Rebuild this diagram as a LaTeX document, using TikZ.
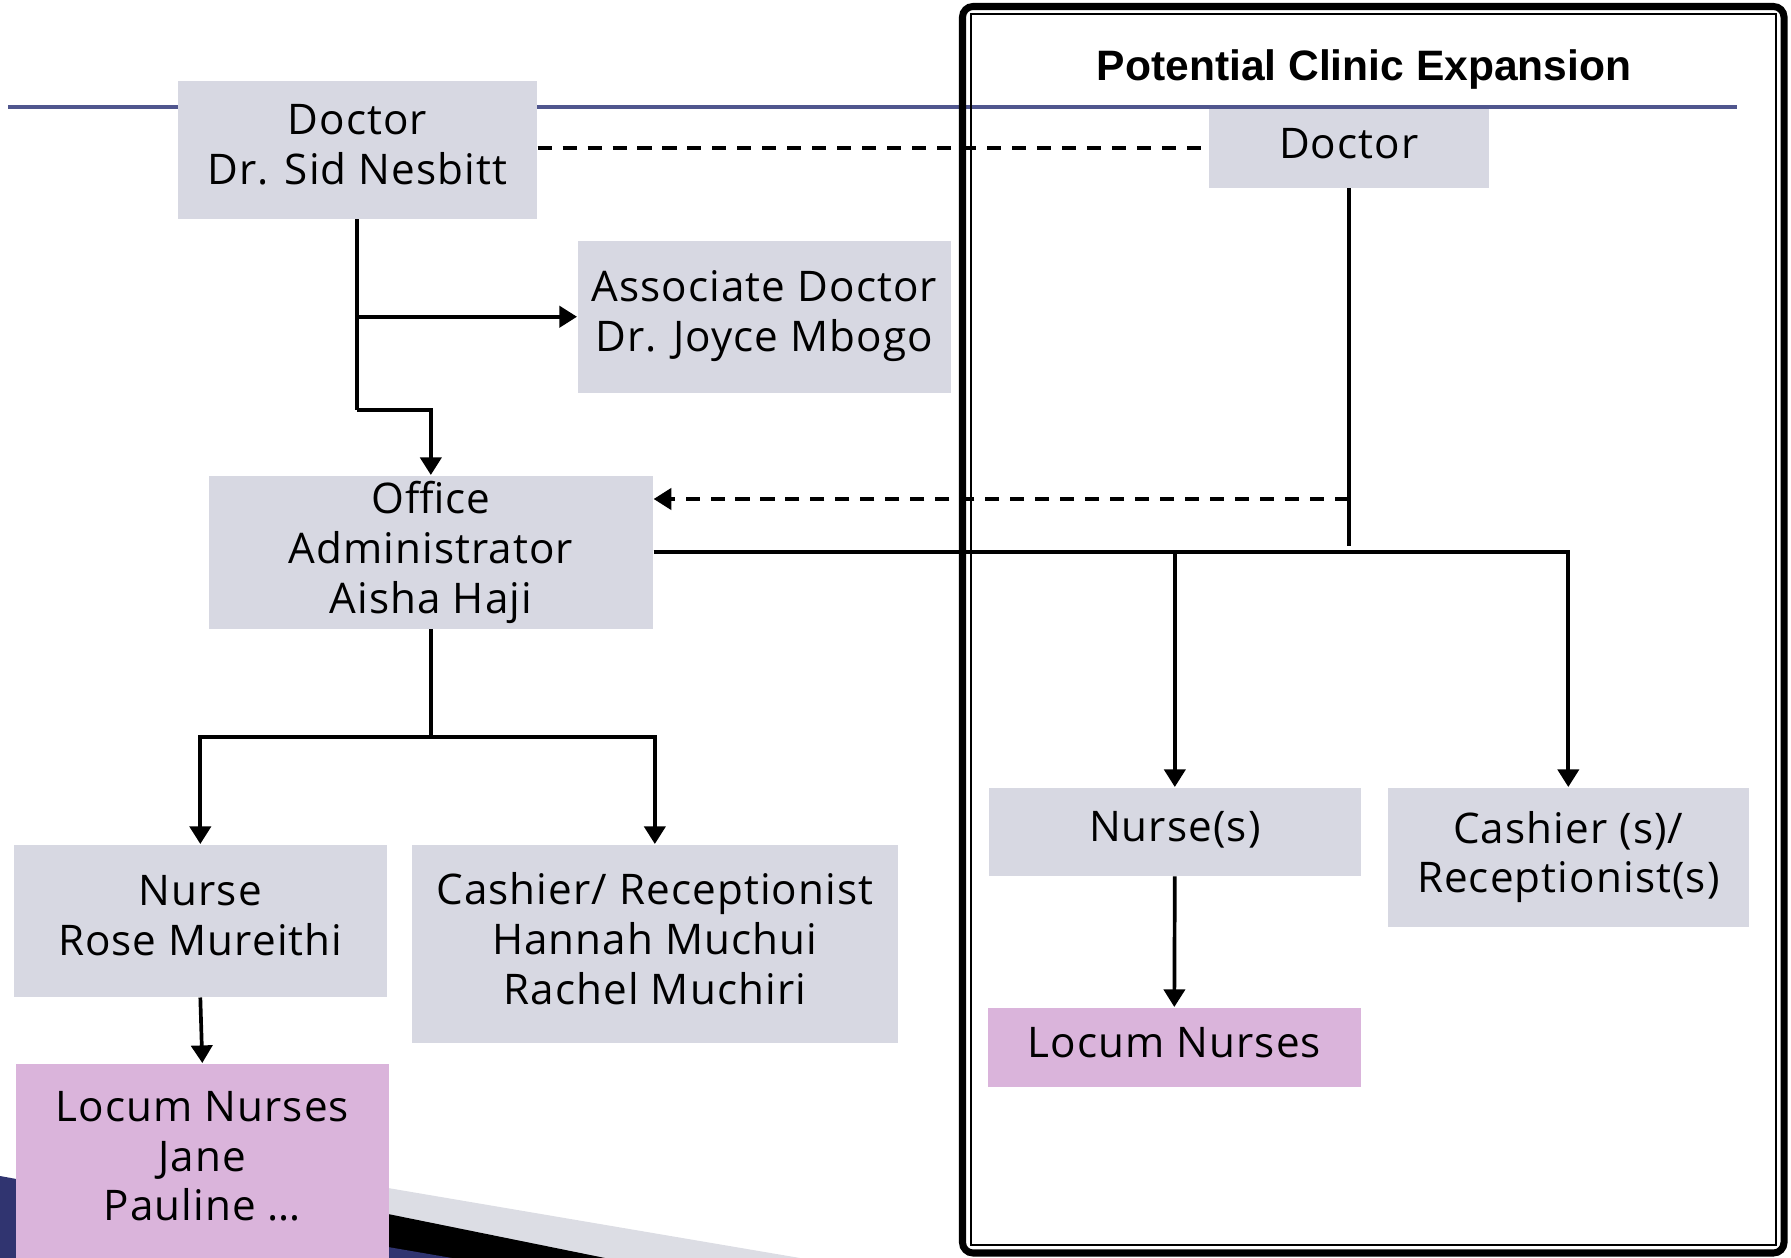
\documentclass[tikz,border=0pt]{standalone}
\usepackage{fontspec}
\setmainfont{Open Sans}[LetterSpace=2.6]
\newfontfamily\titlefont{Liberation Sans}
\usetikzlibrary{arrows.meta}
\definecolor{boxgray}{RGB}{215,216,226}
\definecolor{boxpink}{RGB}{218,180,219}
\definecolor{rule}{RGB}{80,86,142}
\definecolor{swgray}{RGB}{220,221,228}
\definecolor{swblue}{RGB}{48,52,112}
\tikzset{
  orgbox/.style={fill=boxgray, inner sep=0pt, align=center, anchor=north west,
    font=\fontsize{12}{14.2}\selectfont,
    execute at end node={\rule[-0.25em]{0pt}{0pt}}},
  pinkbox/.style={orgbox, fill=boxpink},
  conn/.style={line width=1.05pt, black},
  arr/.style={conn, -{Triangle[length=5pt,width=6pt]}},
  dashconn/.style={conn, dash pattern=on 4pt off 3.1pt},
}
\begin{document}
\begin{tikzpicture}[x=0.01cm, y=-0.01cm]
\useasboundingbox (0,0) rectangle (1791,1258);
% slide decoration
\draw[rule, line width=1pt] (8,107) -- (1737,107);
\fill[swgray] (388,1188) -- (800,1258) -- (388,1258) -- cycle;
\fill[black] (388,1214) -- (605,1258) -- (388,1258) -- cycle;
\fill[swblue] (0,1176) -- (388,1247) -- (452,1258) -- (0,1258) -- cycle;
% expansion frame
\draw[line width=2pt, rounded corners=3pt] (962.5,6.5) rectangle (1784,1253);
\draw[line width=0.6pt] (971,14) rectangle (1776,1245);
\node[font=\titlefont\bfseries\fontsize{12.1}{14}\selectfont] (title) at (1364,69.5) {Potential Clinic Expansion};
% nodes
\node[orgbox, minimum width=3.59cm, minimum height=1.38cm] (docL) at (177,80) {Doctor\\Dr. Sid Nesbitt};
\node[orgbox, minimum width=2.80cm, minimum height=0.79cm] (docR) at (1208,108) {Doctor};
\node[orgbox, minimum width=3.73cm, minimum height=1.52cm] (assoc) at (577,240) {Associate Doctor\\Dr. Joyce Mbogo};
\node[orgbox, minimum width=4.44cm, minimum height=1.53cm] (office) at (208,475) {Office\\Administrator\\Aisha Haji};
\node[orgbox, minimum width=3.73cm, minimum height=1.52cm] (nurse) at (13,844) {Nurse\\Rose Mureithi};
\node[orgbox, minimum width=4.86cm, minimum height=1.98cm] (cashier) at (411,844) {Cashier/ Receptionist\\Hannah Muchui\\Rachel Muchiri};
\node[pinkbox, minimum width=3.73cm, minimum height=1.95cm] (locumL) at (15,1063) {Locum Nurses\\Jane\\Pauline …};
\node[orgbox, minimum width=3.72cm, minimum height=0.88cm] (nurseR) at (988,787) {Nurse(s)};
\node[orgbox, minimum width=3.61cm, minimum height=1.39cm] (cashR) at (1387,787) {Cashier (s)/\\Receptionist(s)};
\node[pinkbox, minimum width=3.73cm, minimum height=0.79cm] (locumR) at (987,1007) {Locum Nurses};
% coordinates
\coordinate (jA) at (docL.south |- 0,410);
\coordinate (jR) at (docR.south |- 0,546);
\coordinate (dR) at (docR.south |- 0,499);
\coordinate (jL) at (office.south |- 0,737);
% connectors
\draw[conn] (docL.south) -- (jA);
\draw[arr] (jA) -| (office.north);
\draw[arr] (docL.south |- assoc.west) -- (assoc.west);
\draw[dashconn] (docL.east |- docR.west) -- (docR.west);
\draw[conn] (docR.south) -- (jR);
\draw[dashconn, -{Triangle[length=5pt,width=6pt]}] (dR) -- (office.east |- dR);
\draw[arr] (office.east) -| (cashR.north);
\draw[arr] (nurseR.north |- office.east) -- (nurseR.north);
\draw[conn] (office.south) -- (jL);
\draw[arr] (jL) -| (nurse.north);
\draw[arr] (jL) -| (cashier.north);
\draw[arr] (nurse.south) -- (locumL.north);
\draw[arr] (nurseR.south) -- (locumR.north);
\end{tikzpicture}
\end{document}
